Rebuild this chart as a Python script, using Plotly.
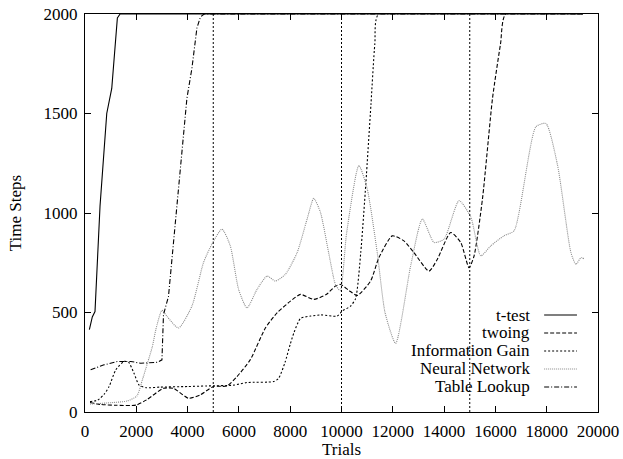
import plotly.graph_objects as go

# ---------------- data ----------------
series_names = ["t-test", "twoing", "Information Gain", "Neural Network", "Table Lookup"]

ttest_x = [170, 285, 390, 455, 586, 848, 1043, 1262, 1367, 19400]
ttest_y = [414, 478, 505, 665, 1035, 1500, 1626, 1980, 2000, 2000]

twoing_x = [195, 600, 1200, 2000, 2400, 3060, 3450, 4035, 4490, 5010, 5535, 5925, 6445,
            7031, 7487, 8008, 8400, 8919, 9400, 9766, 9960, 10300, 10613, 11133, 11457,
            11980, 12434, 12824, 13410, 13738, 14258, 14648, 14973, 15168, 15496, 15887,
            16200, 16406, 19400]
twoing_y = [48, 38, 34, 35, 61, 119, 119, 69, 86, 128, 131, 178, 263,
            422, 498, 557, 591, 566, 590, 633, 641, 610, 586, 658, 775,
            885, 860, 801, 708, 768, 902, 852, 725, 784, 1071, 1576,
            1850, 2000, 2000]

infogain_x = [195, 500, 750, 940, 1200, 1520, 1700, 1910, 2110, 2400, 2930, 4000, 4754,
              5793, 6316, 7355, 7551, 7800, 8000, 8150, 8400, 8800, 9200, 9830, 10026,
              10352, 10550, 10750, 10950, 11150, 11300, 11450, 19400]
infogain_y = [52, 60, 90, 128, 212, 254, 250, 195, 135, 122, 125, 128, 131,
              135, 148, 153, 170, 250, 340, 400, 470, 482, 488, 482, 507,
              532, 570, 800, 1150, 1550, 1850, 2000, 2000]

neural_x = [195, 800, 1629, 2020, 2238, 2434, 2629, 2762, 3000, 3200, 3645, 4168, 4620,
            4945, 5340, 5664, 5989, 6316, 6707, 7098, 7422, 7813, 8270, 8660, 8919,
            9180, 9500, 9766, 9950, 10200, 10677, 11003, 11393, 11700, 12110, 12695,
            13152, 13607, 14000, 14582, 15040, 15430, 15820, 16340, 16730, 17578,
            17969, 18425, 18945, 19140, 19336, 19450]
neural_y = [40, 45, 55, 80, 162, 245, 330, 414, 511, 480, 422, 532, 751,
            843, 919, 835, 616, 523, 616, 683, 658, 692, 801, 970, 1074,
            1003, 800, 640, 610, 900, 1239, 1121, 801, 498, 345, 734,
            970, 852, 869, 1062, 980, 785, 835, 886, 911, 1433,
            1450, 1239, 801, 742, 776, 770]

table_x = [220, 742, 1262, 1785, 2175, 2824, 3000, 3060, 3254, 3582, 3973, 4168, 4363,
           4500, 4650, 19400]
table_y = [212, 237, 254, 254, 245, 250, 262, 490, 580, 1037, 1576, 1727, 1929,
           1985, 2000, 2000]

phase_boundaries = [5000, 10000, 15000]

x_ticks = list(range(0, 20001, 2000))
y_ticks = [0, 500, 1000, 1500, 2000]

# ---------------- styling ----------------
FONT = "Liberation Serif"
FS = 17
styles = {
    "t-test": dict(color="black", dash="solid", shape="linear"),
    "twoing": dict(color="black", dash="4px,2px", shape="spline"),
    "Information Gain": dict(color="black", dash="2px,2px", shape="spline"),
    "Neural Network": dict(color="#8a8a8a", dash="1px,1px", shape="spline"),
    "Table Lookup": dict(color="black", dash="5px,2px,1px,2px", shape="linear"),
}
data = {
    "t-test": (ttest_x, ttest_y),
    "twoing": (twoing_x, twoing_y),
    "Information Gain": (infogain_x, infogain_y),
    "Neural Network": (neural_x, neural_y),
    "Table Lookup": (table_x, table_y),
}

fig = go.Figure()
for name in series_names:
    xs, ys = data[name]
    st = styles[name]
    fig.add_trace(go.Scatter(
        x=xs, y=ys, mode="lines", name=name, showlegend=False,
        line=dict(color=st["color"], dash=st["dash"], width=1.1,
                  shape=st["shape"], smoothing=0.6 if st["shape"] == "spline" else None),
    ))

for xb in phase_boundaries:
    fig.add_shape(type="line", xref="x", yref="y", x0=xb, x1=xb, y0=0, y1=2000,
                  line=dict(color="black", width=1, dash="2px,2px"), layer="above")

# custom legend: text right-aligned, sample line on the right
leg_y0, leg_dy = 0.2437, 0.0452
for i, name in enumerate(series_names):
    st = styles[name]
    yy = leg_y0 - i * leg_dy
    fig.add_annotation(x=0.871, y=yy, xref="paper", yref="paper", text=name,
                       showarrow=False, xanchor="right", yanchor="middle",
                       font=dict(family=FONT, size=FS, color="black"))
    fig.add_shape(type="line", xref="paper", yref="paper", x0=0.895, x1=0.959,
                  y0=yy, y1=yy, line=dict(color=st["color"], dash=st["dash"], width=1.1))

axis_common = dict(
    showline=True, linecolor="black", linewidth=1, mirror="ticks",
    ticks="inside", ticklen=6, tickcolor="black", showgrid=False, zeroline=False,
    automargin=False,
    tickfont=dict(family=FONT, size=FS, color="black"),
)
fig.update_xaxes(range=[0, 20000], tickvals=x_ticks, ticktext=[str(v) for v in x_ticks],
                 ticklabelstandoff=4,
                 title=dict(text="Trials", font=dict(family=FONT, size=FS, color="black"), standoff=2),
                 **axis_common)
fig.update_yaxes(range=[0, 2000], tickvals=y_ticks, ticktext=[str(v) for v in y_ticks],
                 ticklabelstandoff=3,
                 title=dict(text="Time Steps", font=dict(family=FONT, size=FS, color="black"), standoff=17),
                 **axis_common)

fig.update_layout(
    width=623, height=459,
    margin=dict(l=85, r=25, t=14, b=47),
    paper_bgcolor="white", plot_bgcolor="white",
    font=dict(family=FONT, size=FS, color="black"),
)

fig.write_html("out.html")
